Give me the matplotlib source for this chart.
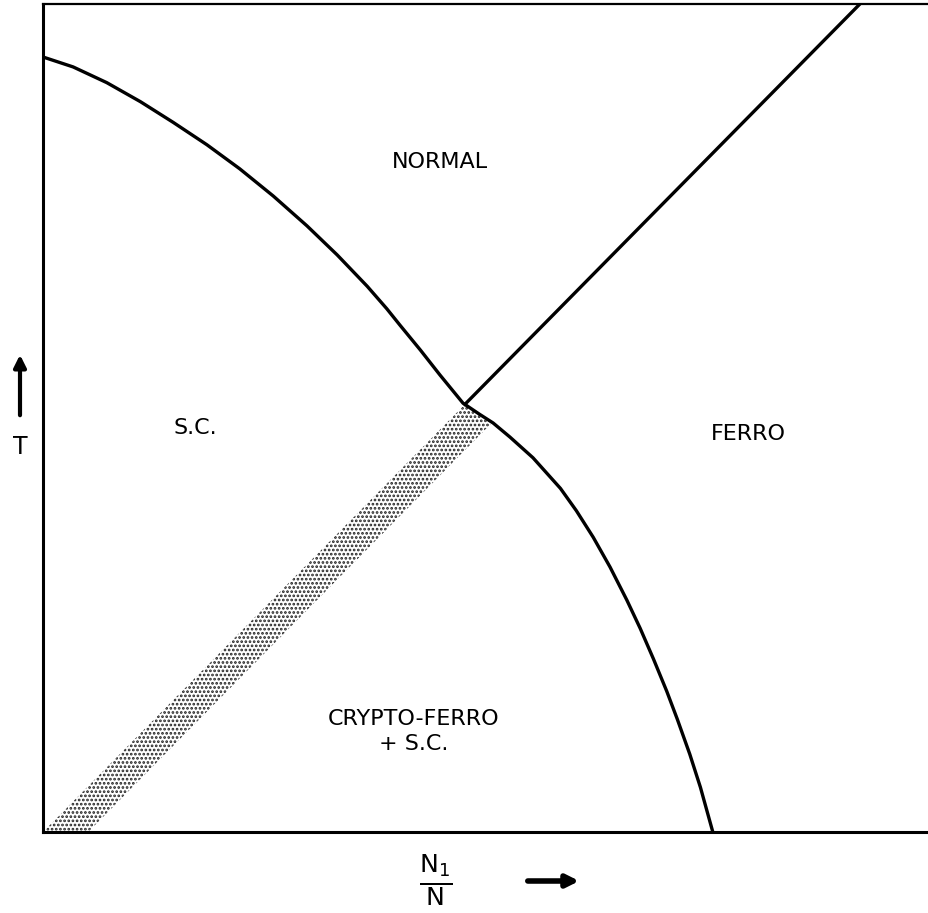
import matplotlib.pyplot as plt
import numpy as np

# phase boundary S.C. / normal -> crypto-ferro / ferro (N1/N, T)
sc_x = [0.0, 0.034, 0.072, 0.110, 0.147, 0.185, 0.222, 0.260, 0.298, 0.332,
        0.366, 0.388, 0.403, 0.426, 0.448, 0.474, 0.492, 0.508, 0.527, 0.553,
        0.584, 0.602, 0.621, 0.640, 0.659, 0.674, 0.689, 0.704, 0.716, 0.730,
        0.742, 0.756]
sc_t = [0.936, 0.924, 0.905, 0.882, 0.857, 0.830, 0.801, 0.768, 0.732, 0.697,
        0.659, 0.632, 0.612, 0.582, 0.552, 0.518, 0.505, 0.494, 0.477, 0.452,
        0.415, 0.388, 0.356, 0.320, 0.280, 0.246, 0.209, 0.170, 0.136, 0.094,
        0.054, 0.0]

# ferro line: straight through the origin
ferro_x = [0.0, 0.922]
ferro_t = [0.0, 1.0]
band_width = 0.051   # width of shaded strip along N1/N

labels = ["NORMAL", "S.C.", "FERRO", "CRYPTO-FERRO\n+ S.C."]
label_pos = [(0.448, 0.809), (0.172, 0.488), (0.796, 0.481), (0.418, 0.121)]

plt.rcParams['hatch.linewidth'] = 1.3

fig = plt.figure(figsize=(9.29, 9.13), dpi=100)
ax = fig.add_axes([43/929, 81/913, 886/929, 828/913])

slope = ferro_t[1] / ferro_x[1]
xs = np.linspace(0, 0.8, 4001)
curve = np.interp(xs, sc_x, sc_t)
# where the two edges of the strip meet the curve
x_up = xs[np.argmin(np.abs(slope*xs - curve))]
x_lo = xs[np.argmin(np.abs(slope*(xs - band_width) - curve))]
seg = (xs >= x_up) & (xs <= x_lo)
poly_x = np.concatenate([[0, band_width, x_lo], xs[seg][::-1], [x_up, 0]])
poly_y = np.concatenate([[0, 0, slope*(x_lo-band_width)], curve[seg][::-1],
                         [slope*x_up, 0]])
ax.fill(poly_x, poly_y, facecolor='none', edgecolor='#222222', hatch='....',
        linewidth=0)

ax.plot(sc_x, sc_t, c='k', lw=2.4, solid_joinstyle='round')
ax.plot([x_up, ferro_x[1]], [slope*x_up, ferro_t[1]], c='k', lw=2.4)

for txt, (x, y) in zip(labels, label_pos):
    ax.text(x, y, txt, ha='center', va='center', fontsize=16,
            linespacing=1.3, family='DejaVu Sans')

ax.set_xlim(0, 1)
ax.set_ylim(0, 1)
ax.set_xticks([])
ax.set_yticks([])
ax.spines['right'].set_visible(False)
ax.spines['left'].set_linewidth(2.2)
ax.spines['bottom'].set_linewidth(2.2)
ax.spines['top'].set_linewidth(1.6)

# axis labels with arrows
fig.text(20/929, 1 - 447/913, 'T', ha='center', va='center', fontsize=17)
ax.annotate('', xy=(20/929, 1 - 352/913), xytext=(20/929, 1 - 418/913),
            xycoords='figure fraction',
            arrowprops=dict(arrowstyle='-|>', lw=3, color='k', mutation_scale=18))
fig.text(436/929, 1 - 880/913, r'$\frac{\mathrm{N_1}}{\mathrm{N}}$', ha='center',
         va='center', fontsize=26)
ax.annotate('', xy=(582/929, 1 - 881/913), xytext=(525/929, 1 - 881/913),
            xycoords='figure fraction',
            arrowprops=dict(arrowstyle='-|>', lw=4, color='k', mutation_scale=18))

plt.savefig('out.png', dpi=100)
